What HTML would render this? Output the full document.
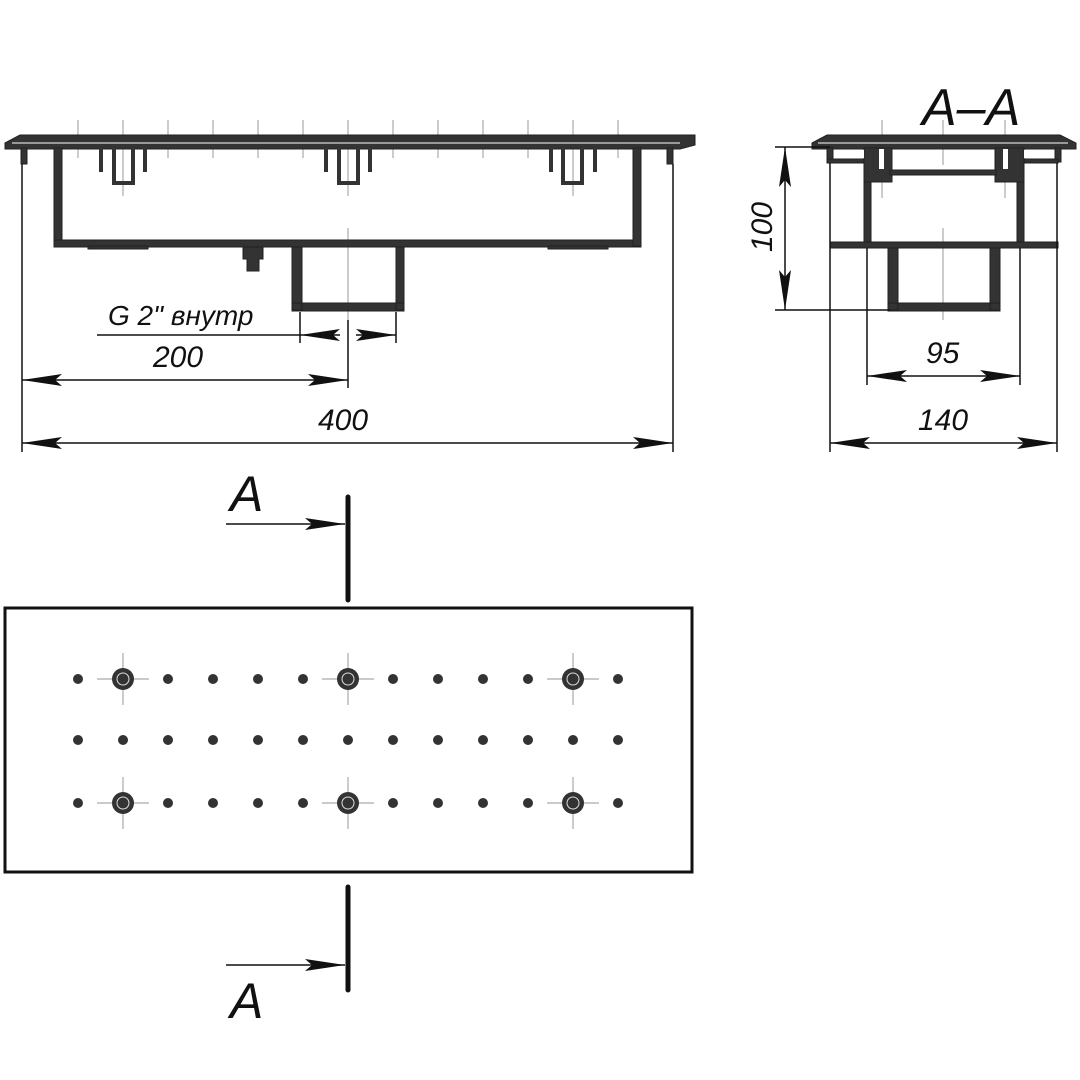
<!DOCTYPE html>
<html><head><meta charset="utf-8"><style>
html,body{margin:0;padding:0;background:#fff}
svg{display:block}
text{font-family:"Liberation Sans",sans-serif;font-style:italic;fill:#111}
</style></head><body>
<svg width="1080" height="1080" viewBox="0 0 1080 1080" xmlns="http://www.w3.org/2000/svg">
<defs>
<marker id="ar" viewBox="0 0 40 12" refX="40" refY="6" markerWidth="40" markerHeight="12" markerUnits="userSpaceOnUse" orient="auto-start-reverse"><path d="M0,0 L40,6 L0,12 L7,6 Z" fill="#111"/></marker>
</defs>
<g stroke="#aaa" stroke-width="1.2">
<path d="M78 120V158M168 120V158M213 120V158M258 120V158M303 120V158M393 120V158M438 120V158M483 120V158M528 120V158M618 120V158M123 120V196M348 120V196M573 120V196M348 228V320"/>
<path d="M882 120V198M1005 120V198M943 120V165M943 228V320"/>
</g>
<!-- front view -->
<g fill="#333" stroke="#222" stroke-width="1">
<path d="M5 143 L20 135 L695 135 L695 145 L680 149 L5 149 Z"/>
<rect x="21" y="148" width="6" height="16"/>
<rect x="54" y="148" width="8" height="98"/>
<rect x="54" y="240" width="587" height="7"/>
<rect x="633" y="148" width="8" height="98"/>
<rect x="667" y="148" width="6" height="16"/>
<rect x="88" y="246" width="60" height="3"/>
<rect x="548" y="246" width="60" height="3"/>
<path d="M243 247h20v12h-4v12h-12v-12h-4z"/>
<path d="M292 247h10v63h-10zM396 247h8v63h-8zM292 303h112v8h-112z"/>
</g>
<path d="M12 143H680" stroke="#fff" stroke-width="1"/>
<g fill="none" stroke="#333" stroke-width="4">
<path d="M114 148V183H133V148M339 148V183H358V148M563 148V183H582V148"/>
<path d="M101 148V172M145 148V172M326 148V172M370 148V172M551 148V172M595 148V172"/>
</g>
<g stroke="#111" stroke-width="1.5" fill="none">
<path d="M22 164V452M673 164V452M348 320V388M300 312V343M396 312V343"/>
<path d="M22 443H673" marker-start="url(#ar)" marker-end="url(#ar)"/>
<path d="M22 380H348" marker-start="url(#ar)" marker-end="url(#ar)"/>
<path d="M97 335H300"/>
<path d="M340 335H300" marker-end="url(#ar)"/>
<path d="M356 335H396" marker-end="url(#ar)"/>
</g>
<text x="108" y="325" font-size="28">G 2" внутр</text>
<text x="153" y="367" font-size="30">200</text>
<text x="318" y="430" font-size="30">400</text>
<!-- section A-A -->
<g fill="#333" stroke="#222" stroke-width="1">
<path d="M812 143 L827 135 L1060 135 L1076 143 L1076 149 L812 149 Z"/>
<rect x="827" y="148" width="6" height="14"/>
<rect x="1055" y="148" width="6" height="14"/>
<rect x="827" y="159" width="38" height="4"/>
<rect x="1022" y="159" width="36" height="4"/>
<rect x="864" y="148" width="7" height="100"/>
<rect x="1017" y="148" width="7" height="100"/>
<rect x="864" y="148" width="28" height="34"/>
<rect x="995" y="148" width="29" height="34"/>
<rect x="890" y="170" width="106" height="5"/>
<rect x="830" y="242" width="228" height="6"/>
<path d="M888 248h10v62h-10zM990 248h10v62h-10zM888 303h112v8h-112z"/>
</g>
<path d="M818 143H1068" stroke="#fff" stroke-width="1"/>
<g fill="#fff"><rect x="834" y="150" width="30" height="8"/><rect x="1024" y="150" width="30" height="8"/><rect x="879" y="149" width="5" height="20"/><rect x="1003" y="149" width="5" height="20"/></g>
<g stroke="#111" stroke-width="1.5" fill="none">
<path d="M830 163V452M1057 163V452M867 248V385M1020 248V385M775 147H830M775 310H890"/>
<path d="M785 147V310" marker-start="url(#ar)" marker-end="url(#ar)"/>
<path d="M867 376H1020" marker-start="url(#ar)" marker-end="url(#ar)"/>
<path d="M830 443H1057" marker-start="url(#ar)" marker-end="url(#ar)"/>
</g>
<text x="922" y="125" font-size="52">A–A</text>
<text font-size="30" transform="translate(772,252) rotate(-90)">100</text>
<text x="926" y="363" font-size="30">95</text>
<text x="918" y="430" font-size="30">140</text>
<!-- plan view -->
<g stroke="#111" fill="none">
<path d="M348 497V600M348 887V990" stroke-width="5" stroke-linecap="round"/>
<path d="M226 524H345" stroke-width="1.5" marker-end="url(#ar)"/>
<path d="M226 965H345" stroke-width="1.5" marker-end="url(#ar)"/>
<rect x="5" y="608" width="687" height="264" stroke-width="3"/>
</g>
<text x="230" y="511" font-size="50">A</text>
<text x="230" y="1018" font-size="50">A</text>
<g fill="#333">
<circle cx="78" cy="679" r="5"/><circle cx="168" cy="679" r="5"/><circle cx="213" cy="679" r="5"/><circle cx="258" cy="679" r="5"/><circle cx="303" cy="679" r="5"/><circle cx="393" cy="679" r="5"/><circle cx="438" cy="679" r="5"/><circle cx="483" cy="679" r="5"/><circle cx="528" cy="679" r="5"/><circle cx="618" cy="679" r="5"/>
<circle cx="78" cy="740" r="5"/><circle cx="123" cy="740" r="5"/><circle cx="168" cy="740" r="5"/><circle cx="213" cy="740" r="5"/><circle cx="258" cy="740" r="5"/><circle cx="303" cy="740" r="5"/><circle cx="348" cy="740" r="5"/><circle cx="393" cy="740" r="5"/><circle cx="438" cy="740" r="5"/><circle cx="483" cy="740" r="5"/><circle cx="528" cy="740" r="5"/><circle cx="573" cy="740" r="5"/><circle cx="618" cy="740" r="5"/>
<circle cx="78" cy="803" r="5"/><circle cx="168" cy="803" r="5"/><circle cx="213" cy="803" r="5"/><circle cx="258" cy="803" r="5"/><circle cx="303" cy="803" r="5"/><circle cx="393" cy="803" r="5"/><circle cx="438" cy="803" r="5"/><circle cx="483" cy="803" r="5"/><circle cx="528" cy="803" r="5"/><circle cx="618" cy="803" r="5"/>
</g>
<g stroke="#aaa" stroke-width="1.2">
<path d="M97 679H149M123 653V705M322 679H374M348 653V705M547 679H599M573 653V705"/>
<path d="M97 803H149M123 777V829M322 803H374M348 777V829M547 803H599M573 777V829"/>
</g>
<g fill="#333">
<circle cx="123" cy="679" r="11"/><circle cx="348" cy="679" r="11"/><circle cx="573" cy="679" r="11"/>
<circle cx="123" cy="803" r="11"/><circle cx="348" cy="803" r="11"/><circle cx="573" cy="803" r="11"/>
</g>
<g fill="none" stroke="#ddd" stroke-width="1">
<circle cx="123" cy="679" r="6"/><circle cx="348" cy="679" r="6"/><circle cx="573" cy="679" r="6"/>
<circle cx="123" cy="803" r="6"/><circle cx="348" cy="803" r="6"/><circle cx="573" cy="803" r="6"/>
</g>
</svg>
</body></html>
